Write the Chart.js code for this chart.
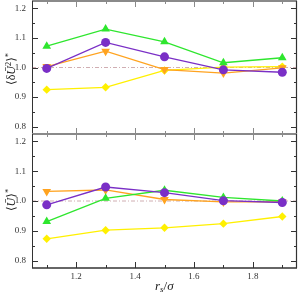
<!DOCTYPE html>
<html>
<head>
<meta charset="utf-8">
<script src="https://cdn.jsdelivr.net/npm/chart.js@4.4.0/dist/chart.umd.min.js"></script>
<style>
  html, body { margin: 0; padding: 0; background: #fff; }
  #wrap { position: relative; width: 302px; height: 296px; overflow: hidden; }
  canvas { position: absolute; left: 0; top: 0; }
  #topChart { top: -20px; }
  .lbl { position: absolute; font-family: "Liberation Serif", "DejaVu Serif", serif; color: #222; white-space: nowrap; line-height: 1; }
  .rot { transform: translate(-50%, -50%) rotate(-90deg); }
  .lbl sup { font-size: 70%; vertical-align: 0.45em; }
  .lbl sub { font-size: 70%; vertical-align: -0.25em; }
</style>
</head>
<body>
<div id="wrap">
  <canvas id="topChart" width="302" height="296"></canvas>
  <canvas id="botChart" width="302" height="296"></canvas>
  <div class="lbl rot" style="left:11px;top:69px;font-size:12px">⟨δ<i>Ū</i><sup>2</sup>⟩<sup>*</sup></div>
  <div class="lbl rot" style="left:11px;top:200px;font-size:12px">⟨<i>Ū</i>⟩<sup>*</sup></div>
  <div class="lbl" style="left:155px;top:279px;font-size:13px"><i>r<sub>s</sub></i>/<i>σ</i></div>
</div>
<script>
/* ---------- data ---------- */
const rsValues = [1.1, 1.3, 1.5, 1.7, 1.9];

// top panel: <dU^2>*
const dU2Green  = [1.072, 1.130, 1.087, 1.016, 1.033];
const dU2Purple = [0.997, 1.085, 1.036, 0.992, 0.984];
const dU2Orange = [1.003, 1.055, 0.993, 0.981, 0.999];
const dU2Yellow = [0.925, 0.933, 0.990, 1.001, 1.003];

// bottom panel: <U>*
const uGreen  = [0.931, 1.009, 1.036, 1.012, 1.000];
const uPurple = [0.987, 1.047, 1.028, 1.001, 0.995];
const uOrange = [1.032, 1.037, 1.005, 0.997, 0.997];
const uYellow = [0.873, 0.902, 0.910, 0.924, 0.948];

const xTickValues = [1.2, 1.4, 1.6, 1.8];
const xMinorTicks = [1.1, 1.3, 1.5, 1.7, 1.9];
const yTickValues = [0.8, 0.9, 1.0, 1.1, 1.2];
const yMinorTicks = [0.85, 0.95, 1.05, 1.15];
const refLine = [1.0, 1.0];

/* ---------- styles ---------- */
const GREEN = '#2ee62e', PURPLE = '#7a2fc6', ORANGE = '#ffa31f', YELLOW = '#fff000';
const FONT = { family: '"Liberation Serif", "DejaVu Serif", serif', size: 9 };
const X_MIN = 1.05, X_MAX = 1.95, Y_MIN = 0.775, Y_MAX = 1.225;

function pts(ys) { return ys.map((y, i) => ({ x: rsValues[i], y })); }

function series(color, ys, style, radius, rotation) {
  return {
    data: pts(ys),
    borderColor: color, backgroundColor: color,
    borderWidth: 1.3,
    pointStyle: style, pointRadius: radius, pointRotation: rotation || 0,
    pointBorderWidth: 0, tension: 0
  };
}

function refSeries() {
  return {
    data: [{ x: X_MIN, y: refLine[0] }, { x: X_MAX, y: refLine[1] }],
    borderColor: 'rgba(200,160,165,0.85)', borderWidth: 1,
    borderDash: [4, 2, 1, 2], pointRadius: 0
  };
}

/* ---------- frame with inward ticks ---------- */
const framePlugin = {
  id: 'frame',
  afterDraw(chart, args, o) {
    const { ctx, chartArea: a, scales: { x, y } } = chart;
    ctx.save();
    const line = (x1, y1, x2, y2, color, w) => {
      ctx.strokeStyle = color; ctx.lineWidth = w;
      ctx.beginPath(); ctx.moveTo(x1, y1); ctx.lineTo(x2, y2); ctx.stroke();
    };
    // x ticks
    const xt = (vals, len) => vals.forEach(v => {
      const px = Math.round(x.getPixelForValue(v)) + 0.5;
      if (o.top) line(px, a.top, px, a.top + len, o.top.tick, 1);
      line(px, a.bottom - len, px, a.bottom, o.bottom.tick, 1);
    });
    xt(xTickValues, 6); xt(xMinorTicks, 3);
    // y ticks
    const yt = (vals, len) => vals.forEach(v => {
      const py = Math.round(y.getPixelForValue(v)) + 0.5;
      line(a.left, py, a.left + len, py, '#333', 1);
      line(a.right - len, py, a.right, py, '#333', 1);
    });
    yt(yTickValues, 6); yt(yMinorTicks, 3);
    // borders
    if (o.top) line(a.left, a.top, a.right, a.top, o.top.color, o.top.width);
    line(a.left, a.bottom, a.right, a.bottom, o.bottom.color, o.bottom.width);
    line(a.left + 0.5, a.top, a.left + 0.5, a.bottom, '#333', 1);
    line(a.right - 0.5, a.top, a.right - 0.5, a.bottom, '#333', 1.2);
    ctx.restore();
  }
};

function makeChart(id, data, padding, showX, frame) {
  return new Chart(document.getElementById(id), {
    type: 'line',
    data: { datasets: data },
    plugins: [framePlugin],
    options: {
      responsive: false, animation: false, devicePixelRatio: 1,
      layout: { padding },
      plugins: { legend: { display: false }, tooltip: { enabled: false }, frame },
      scales: {
        x: {
          type: 'linear', min: X_MIN, max: X_MAX,
          grid: { display: false, drawTicks: false }, border: { display: false },
          afterBuildTicks: s => { s.ticks = xTickValues.map(v => ({ value: v })); },
          afterFit: s => { s.height = showX ? 28 : 0; s.paddingLeft = 0; s.paddingRight = 0; },
          ticks: { display: showX, font: FONT, color: '#333', padding: 3, maxRotation: 0, callback: v => v.toFixed(1) }
        },
        y: {
          min: Y_MIN, max: Y_MAX,
          grid: { display: false, drawTicks: false }, border: { display: false },
          afterBuildTicks: s => { s.ticks = yTickValues.map(v => ({ value: v })); },
          afterFit: s => { s.width = 32; s.paddingTop = 0; s.paddingBottom = 0; },
          ticks: { font: FONT, color: '#333', padding: 6, callback: v => v.toFixed(1) }
        }
      }
    }
  });
}

// first dataset is drawn on top
// top canvas sits 20px above the page top, so its plot area spans page y 1..134
makeChart('topChart', [
  series(PURPLE, dU2Purple, 'circle', 4.5),
  series(GREEN, dU2Green, 'triangle', 5),
  series(ORANGE, dU2Orange, 'triangle', 5, 180),
  series(YELLOW, dU2Yellow, 'rectRot', 4.2),
  refSeries()
], { left: 0, right: 2, top: 21, bottom: 142 }, false, {
  top: { color: '#8a8a8a', width: 2, tick: '#8a8a8a' },
  bottom: { color: '#8a8a8a', width: 2, tick: '#8a8a8a' }
});

makeChart('botChart', [
  series(PURPLE, uPurple, 'circle', 4.5),
  series(GREEN, uGreen, 'triangle', 5),
  series(ORANGE, uOrange, 'triangle', 5, 180),
  series(YELLOW, uYellow, 'rectRot', 4.2),
  refSeries()
], { left: 0, right: 2, top: 134, bottom: 0 }, true, {
  top: { color: '#8a8a8a', width: 2, tick: '#8a8a8a' },
  bottom: { color: '#333', width: 1.3, tick: '#333' }
});
</script>
</body>
</html>
